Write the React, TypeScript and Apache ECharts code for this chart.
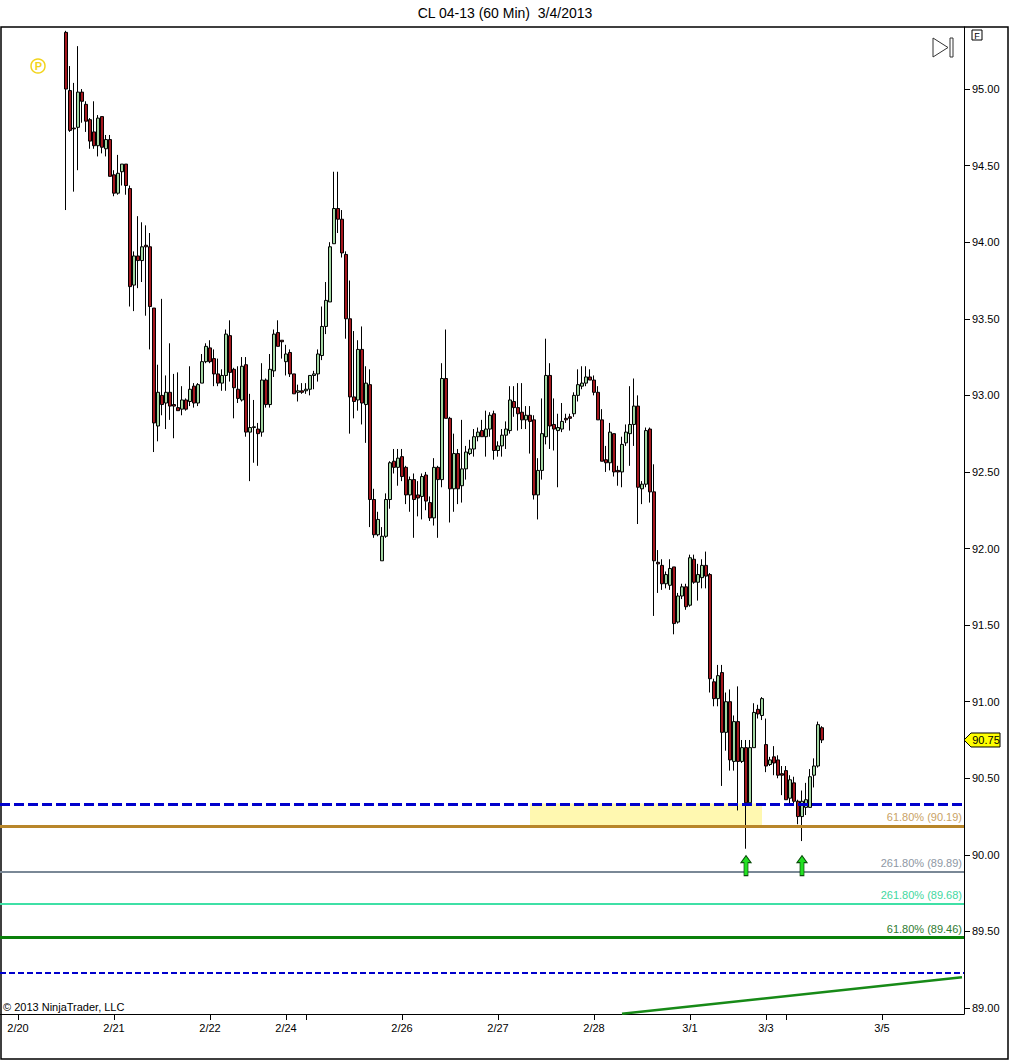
import React, { useEffect, useRef } from 'react';
import * as echarts from 'echarts';

const TITLE = 'CL 04-13 (60 Min)  3/4/2013';
const COPYRIGHT = '© 2013 NinjaTrader, LLC';
const slotCount = 241;
const firstBar = 16;
const dayTicks = [4, 28, 52, 71, 76, 100, 124, 148, 172, 191, 196, 220];
const dayLabels = ['2/20', '2/21', '2/22', '2/24', '', '2/26', '2/27', '2/28', '3/1', '3/3', '', '3/5'];
const yTicks = [89, 89.5, 90, 90.5, 91, 91.5, 92, 92.5, 93, 93.5, 94, 94.5, 95];
const yMin = 88.961;
const yMax = 95.405;

// each bar: [open, close, low, high]
const feb20 = [
  [95.37, 95.0, 94.21, 95.38], [94.99, 94.73, 94.72, 95.15], [94.745, 94.74, 94.33, 95.04],
  [94.75, 94.98, 94.47, 95.28], [94.98, 94.92, 94.78, 95.0], [94.9, 94.79, 94.72, 94.92],
  [94.8, 94.66, 94.61, 94.81], [94.72, 94.63, 94.61, 94.92], [94.63, 94.81, 94.56, 94.83],
  [94.82, 94.62, 94.58, 94.82], [94.61, 94.67, 94.56, 94.7], [94.67, 94.43, 94.43, 94.7],
];
const feb21 = [
  [94.44, 94.32, 94.3, 94.47], [94.32, 94.45, 94.31, 94.57], [94.46, 94.51, 94.37, 94.51],
  [94.51, 94.37, 94.31, 94.51], [94.35, 93.71, 93.58, 94.37], [93.72, 93.91, 93.55, 93.94],
  [93.91, 93.88, 93.7, 94.17], [93.88, 93.97, 93.74, 94.13], [93.98, 93.97, 93.52, 94.11],
  [93.97, 93.58, 93.3, 94.06], [93.57, 92.82, 92.63, 93.57], [92.8, 93.02, 92.7, 93.2],
  [93.0, 92.94, 92.87, 93.63], [92.95, 93.02, 92.78, 93.13], [93.02, 92.93, 92.84, 93.34],
  [92.94, 92.93, 92.72, 93.14], [92.92, 92.9, 92.9, 93.15], [92.91, 92.97, 92.87, 93.06],
  [92.97, 92.91, 92.9, 92.98], [92.96, 93.04, 92.93, 93.19], [93.06, 92.95, 92.92, 93.08],
  [92.95, 93.07, 92.93, 93.08], [93.08, 93.22, 93.08, 93.27], [93.22, 93.32, 93.21, 93.34],
];
const feb22 = [
  [93.31, 93.22, 93.21, 93.36], [93.24, 93.14, 93.06, 93.3], [93.14, 93.08, 93.06, 93.24],
  [93.08, 93.13, 93.03, 93.17], [93.13, 93.4, 93.03, 93.43], [93.39, 93.15, 93.09, 93.49],
  [93.17, 93.05, 92.85, 93.18], [93.04, 92.98, 92.95, 93.19], [92.97, 93.19, 92.96, 93.25],
  [93.2, 92.76, 92.73, 93.25], [92.76, 92.79, 92.44, 93.01], [92.79, 92.795, 92.56, 92.97],
  [92.78, 92.75, 92.54, 92.82], [92.76, 93.1, 92.73, 93.21], [93.1, 92.94, 92.92, 93.11],
  [92.94, 93.17, 92.92, 93.27], [93.16, 93.4, 93.12, 93.43], [93.41, 93.32, 93.32, 93.49],
  [93.36, 93.35, 93.24, 93.36],
];
const feb24 = [
  [93.22, 93.27, 93.13, 93.33], [93.28, 93.14, 93.12, 93.3], [93.14, 93.01, 93.01, 93.14],
  [93.02, 93.03, 92.96, 93.07], [93.03, 93.02, 93.01, 93.08],
];
const feb25 = [
  [93.03, 93.04, 93.01, 93.08], [93.04, 93.13, 93.0, 93.13], [93.13, 93.14, 93.04, 93.16],
  [93.14, 93.27, 93.09, 93.3], [93.26, 93.45, 93.23, 93.58], [93.45, 93.62, 93.4, 93.74],
  [93.61, 93.97, 93.61, 94.0], [93.99, 94.22, 93.99, 94.46], [94.22, 94.15, 94.06, 94.46],
  [94.15, 93.93, 93.9, 94.21], [93.92, 93.5, 93.37, 93.94], [93.5, 92.99, 92.75, 93.75],
  [92.99, 92.96, 92.85, 93.42], [92.97, 93.3, 92.9, 93.36], [93.3, 92.95, 92.81, 93.45],
  [92.94, 93.08, 92.69, 93.19], [93.07, 92.32, 92.14, 93.17], [92.32, 92.09, 92.07, 92.39],
  [92.09, 92.19, 92.08, 92.24], [91.92, 92.08, 91.92, 92.14], [92.08, 92.32, 92.07, 92.36],
  [92.32, 92.56, 92.26, 92.57], [92.57, 92.53, 92.49, 92.65], [92.53, 92.59, 92.41, 92.65],
];
const feb26 = [
  [92.6, 92.47, 92.44, 92.65], [92.53, 92.35, 92.29, 92.54], [92.35, 92.45, 92.24, 92.47],
  [92.45, 92.32, 92.07, 92.49], [92.35, 92.33, 92.21, 92.44], [92.34, 92.47, 92.19, 92.49],
  [92.48, 92.31, 92.25, 92.5], [92.3, 92.2, 92.18, 92.34], [92.2, 92.53, 92.15, 92.59],
  [92.53, 92.45, 92.07, 92.54], [92.45, 93.11, 92.4, 93.21], [93.11, 92.85, 92.85, 93.43],
  [92.85, 92.39, 92.17, 92.86], [92.39, 92.62, 92.24, 92.75], [92.62, 92.39, 92.29, 92.65],
  [92.41, 92.52, 92.3, 92.84], [92.52, 92.63, 92.45, 92.67], [92.62, 92.65, 92.61, 92.71],
  [92.65, 92.73, 92.6, 92.78], [92.73, 92.76, 92.7, 92.79], [92.77, 92.73, 92.73, 92.84],
  [92.73, 92.78, 92.6, 92.9], [92.78, 92.87, 92.73, 92.89], [92.88, 92.64, 92.58, 92.9],
];
const feb27 = [
  [92.64, 92.67, 92.6, 92.7], [92.67, 92.74, 92.6, 92.78], [92.74, 92.78, 92.65, 92.83],
  [92.77, 92.97, 92.75, 93.06], [92.96, 92.92, 92.86, 93.06], [92.92, 92.88, 92.77, 93.08],
  [92.89, 92.84, 92.78, 93.08], [92.84, 92.87, 92.78, 92.93], [92.87, 92.83, 92.62, 92.93],
  [92.84, 92.35, 92.32, 92.87], [92.35, 92.51, 92.19, 92.59], [92.51, 92.75, 92.45, 92.98],
  [92.73, 93.13, 92.68, 93.37], [93.13, 92.8, 92.65, 93.21], [92.81, 92.78, 92.64, 92.98],
  [92.77, 92.79, 92.4, 92.88], [92.78, 92.83, 92.76, 92.95], [92.85, 92.84, 92.82, 92.88],
  [92.86, 92.85, 92.77, 92.88], [92.88, 93.0, 92.86, 93.02], [93.0, 93.07, 92.96, 93.17],
  [93.06, 93.08, 93.04, 93.19], [93.08, 93.12, 93.06, 93.19], [93.12, 93.1, 93.1, 93.17],
];
const feb28 = [
  [93.1, 93.02, 93.0, 93.13], [93.02, 92.84, 92.84, 93.06], [92.84, 92.57, 92.57, 92.91],
  [92.58, 92.56, 92.5, 92.67], [92.56, 92.76, 92.51, 92.82], [92.75, 92.5, 92.47, 92.75],
  [92.51, 92.5, 92.41, 92.54], [92.5, 92.68, 92.4, 92.73], [92.69, 92.76, 92.67, 92.81],
  [92.75, 92.81, 92.54, 93.06], [92.81, 92.93, 92.67, 93.11], [92.93, 92.4, 92.16, 93.0],
  [92.39, 92.42, 92.29, 92.44], [92.42, 92.77, 92.4, 92.79], [92.78, 92.37, 92.3, 92.79],
  [92.37, 91.92, 91.56, 92.55], [91.91, 91.9, 91.71, 91.99], [91.89, 91.77, 91.73, 91.93],
  [91.77, 91.83, 91.74, 91.85], [91.76, 91.87, 91.73, 91.93], [91.88, 91.51, 91.44, 91.88],
  [91.52, 91.69, 91.51, 91.71], [91.69, 91.75, 91.67, 91.77], [91.75, 91.62, 91.6, 91.77],
];
const mar1 = [
  [91.63, 91.94, 91.62, 91.96], [91.93, 91.78, 91.77, 91.96], [91.78, 91.83, 91.66, 91.9],
  [91.81, 91.89, 91.74, 91.93], [91.89, 91.82, 91.74, 91.98], [91.83, 91.15, 91.06, 91.84],
  [91.13, 91.02, 90.97, 91.15], [91.02, 91.17, 90.97, 91.24], [91.19, 90.8, 90.45, 91.24],
  [90.8, 91.0, 90.68, 91.06], [91.0, 90.62, 90.55, 91.08], [90.61, 90.87, 90.55, 90.91],
  [90.87, 90.61, 90.29, 91.1], [90.61, 90.7, 90.6, 90.75], [90.7, 90.34, 90.04, 90.75],
  [90.34, 90.7, 90.34, 90.75], [90.7, 90.93, 90.7, 90.99], [90.95, 90.92, 90.89, 90.98],
  [90.91, 91.02, 90.88, 91.03],
];
const mar3 = [
  [90.72, 90.58, 90.54, 90.89], [90.59, 90.62, 90.58, 90.64], [90.64, 90.6, 90.52, 90.71],
  [90.62, 90.52, 90.5, 90.65], [90.53, 90.52, 90.39, 90.58],
];
const mar4 = [
  [90.55, 90.36, 90.36, 90.58], [90.37, 90.49, 90.32, 90.52], [90.47, 90.35, 90.32, 90.51],
  [90.35, 90.25, 90.2, 90.36], [90.25, 90.35, 90.09, 90.42], [90.31, 90.36, 90.26, 90.47],
  [90.31, 90.51, 90.31, 90.56], [90.52, 90.58, 90.44, 90.63], [90.58, 90.85, 90.57, 90.87],
  [90.83, 90.75, 90.73, 90.84],
];

const levelPrices = [90.335, 90.19, 89.89, 89.68, 89.46, 89.23];
const levelTexts = ['', '61.80% (90.19)', '261.80% (89.89)', '261.80% (89.68)', '61.80% (89.46)', ''];
const trendLine = [[155, 88.962], [240, 89.201]];
const zoneBars = [132, 190];
const zonePrices = [90.19, 90.335];
const signalBars = [186, 200];
const signalPrice = 89.93;
const lastPrice = 90.75;

const FONT = "'Liberation Sans', Arial, sans-serif";

const levelStyles = [
  { color: '#0000CC', width: 3, type: [10, 4], text: '#0000CC' },
  { color: '#B8862A', width: 3, type: 'solid', text: '#C9A264' },
  { color: '#7A8896', width: 2, type: 'solid', text: '#8E98A4' },
  { color: '#3FE0A6', width: 2, type: 'solid', text: '#3FD8A0' },
  { color: '#0A800A', width: 3, type: 'solid', text: '#2F7A2F' },
  { color: '#0000CC', width: 2, type: [6, 3], text: '#0000CC' },
];

export default function App() {
  const ref = useRef<HTMLDivElement>(null);
  useEffect(() => {
    document.body.style.margin = '0';
    if (!ref.current) return;
    const chart = echarts.init(ref.current, undefined, { renderer: 'svg' });

    const sessions = [feb20, feb21, feb22, feb24, feb25, feb26, feb27, feb28, mar1, mar3, mar4];
    const bars = sessions.flat();
    const categories = Array.from({ length: slotCount }, (_, i) => String(i));
    const candleData = categories.map((_, i) => {
      const b = bars[i - firstBar];
      return b ? b : '-';
    });
    const labelMap: Record<number, string> = {};
    dayTicks.forEach((t, k) => (labelMap[t] = dayLabels[k]));
    const tickSet = new Set(dayTicks);

    const option: any = {
      animation: false,
      backgroundColor: '#ffffff',
      title: {
        text: TITLE,
        left: 'center',
        top: 6,
        padding: 0,
        textStyle: { fontSize: 14, fontWeight: 'normal', color: '#000', fontFamily: FONT },
      },
      grid: { left: 0, right: 46, top: 27, bottom: 46, containLabel: false },
      xAxis: {
        type: 'category',
        data: categories,
        boundaryGap: true,
        axisLine: { show: true, lineStyle: { color: '#000', width: 1 } },
        axisTick: {
          show: true,
          alignWithLabel: true,
          interval: (i: number) => tickSet.has(i),
          length: 6,
          lineStyle: { color: '#000' },
        },
        axisLabel: {
          interval: (i: number) => !!labelMap[i],
          formatter: (_v: string, i: number) => labelMap[i] || '',
          margin: 8,
          fontSize: 11,
          color: '#000',
          fontFamily: FONT,
        },
        splitLine: { show: false },
      },
      yAxis: {
        type: 'value',
        position: 'right',
        min: yMin,
        max: yMax,
        axisLine: { show: true, lineStyle: { color: '#000', width: 1 } },
        axisTick: { show: true, customValues: yTicks, length: 6, lineStyle: { color: '#000' } },
        axisLabel: {
          customValues: yTicks,
          formatter: (v: number) => v.toFixed(2),
          margin: 8,
          fontSize: 11,
          color: '#000',
          fontFamily: FONT,
        },
        splitLine: { show: false },
      },
      series: [
        {
          type: 'line',
          z: 1,
          data: trendLine,
          symbol: 'none',
          silent: true,
          lineStyle: { color: '#178A17', width: 2.5 },
          markArea: {
            silent: true,
            itemStyle: { color: 'rgba(255, 246, 150, 0.75)' },
            data: [[{ coord: [zoneBars[0], zonePrices[0]] }, { coord: [zoneBars[1], zonePrices[1]] }]],
          },
        },
        {
          type: 'candlestick',
          z: 3,
          data: candleData,
          barWidth: 3,
          itemStyle: {
            color: '#A2D6A2',
            color0: '#A3161D',
            borderColor: '#000',
            borderColor0: '#000',
            borderWidth: 1,
          },
          markLine: {
            silent: true,
            symbol: ['none', 'none'],
            data: levelPrices.map((p, k) => ({
              yAxis: p,
              lineStyle: { color: levelStyles[k].color, width: levelStyles[k].width, type: levelStyles[k].type },
              label: {
                show: !!levelTexts[k],
                formatter: levelTexts[k],
                position: 'insideEndTop',
                distance: [2, 3],
                color: levelStyles[k].text,
                fontSize: 11,
                fontFamily: FONT,
              },
            })),
          },
          markPoint: {
            silent: true,
            symbol: 'path://M5,0 L10,7 L7,7 L7,20 L3,20 L3,7 L0,7 Z',
            symbolSize: [10, 20],
            itemStyle: { color: '#22E022', borderColor: '#0B4D0B', borderWidth: 1 },
            label: { show: false },
            data: signalBars.map((b) => ({ coord: [b, signalPrice] })),
          },
        },
      ],
    };
    chart.setOption(option);

    const py = chart.convertToPixel({ yAxisIndex: 0 }, lastPrice) as number;
    chart.setOption({
      graphic: [
        {
          type: 'rect',
          silent: true,
          shape: { x: 1, y: 27, width: 1007, height: 1032 },
          style: { fill: 'none', stroke: '#000', lineWidth: 1.5 },
        },
        {
          type: 'text',
          silent: true,
          x: 3,
          y: 1007,
          style: { text: COPYRIGHT, fill: '#000', font: `11px ${FONT}`, textVerticalAlign: 'middle' },
        },
        {
          type: 'circle',
          silent: true,
          shape: { cx: 38, cy: 66, r: 7 },
          style: { fill: 'none', stroke: '#F2D41C', lineWidth: 1.5 },
        },
        {
          type: 'text',
          silent: true,
          x: 38.5,
          y: 66,
          style: { text: 'P', fill: '#F2D41C', font: `bold 11px ${FONT}`, textAlign: 'center', textVerticalAlign: 'middle' },
        },
        {
          type: 'polygon',
          silent: true,
          shape: { points: [[933, 38], [948, 47.5], [933, 57]] },
          style: { fill: 'none', stroke: '#333', lineWidth: 1 },
        },
        {
          type: 'rect',
          silent: true,
          shape: { x: 950, y: 38, width: 3, height: 19 },
          style: { fill: 'none', stroke: '#333', lineWidth: 1 },
        },
        {
          type: 'rect',
          silent: true,
          shape: { x: 972, y: 30, width: 10, height: 10 },
          style: { fill: '#fff', stroke: '#000', lineWidth: 1 },
        },
        {
          type: 'text',
          silent: true,
          x: 977,
          y: 35.5,
          style: { text: 'F', fill: '#000', font: `9px ${FONT}`, textAlign: 'center', textVerticalAlign: 'middle' },
        },
        {
          type: 'polygon',
          silent: true,
          shape: { points: [[964, py], [971, py - 7], [1000, py - 7], [1000, py + 7], [971, py + 7]] },
          style: { fill: '#FFFF00', stroke: '#000', lineWidth: 1 },
        },
        {
          type: 'text',
          silent: true,
          x: 986,
          y: py,
          style: { text: lastPrice.toFixed(2), fill: '#000', font: `11px ${FONT}`, textAlign: 'center', textVerticalAlign: 'middle' },
        },
      ],
    });

    return () => chart.dispose();
  }, []);
  return <div ref={ref} style={{ width: 1010, height: 1060 }} />;
}
